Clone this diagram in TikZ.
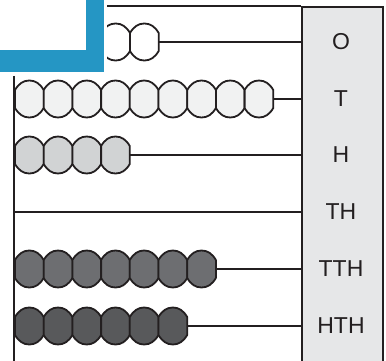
\documentclass[tikz,border=0pt]{standalone}
\usepackage{fontspec}
\setmainfont{Liberation Sans}
\definecolor{ink}{HTML}{231F20}
\definecolor{panelgray}{HTML}{E6E7E8}
\definecolor{beadO}{HTML}{FFFFFF}
\definecolor{beadT}{HTML}{F1F2F2}
\definecolor{beadH}{HTML}{D1D3D4}
\definecolor{beadTTH}{HTML}{6D6E71}
\definecolor{beadHTH}{HTML}{58595B}
\definecolor{cornerblue}{HTML}{2596C4}
\tikzset{
  rod/.style={draw=ink, line width=1.8pt},
  beadshape/.style={draw=ink, line width=1.8pt, line join=round},
  lab/.style={font=\fontsize{23}{27}\selectfont, text=ink, inner sep=0pt},
}
\newcommand\drawbeads[5]{% #1 first left edge, #2 y, #3 count, #4 colour, #5 end coordinate name
  \foreach \i in {1,...,#3}{
    \pgfmathsetmacro\cx{#1+(\i-0.5)*28.7}
    \draw[beadshape, fill=#4]
      (\cx-14.35,#2-9) -- (\cx-14.35,#2+9)
      .. controls (\cx-10.5,#2+15.5) and (\cx-6,#2+18.5) .. (\cx,#2+18.5)
      .. controls (\cx+6,#2+18.5) and (\cx+10.5,#2+15.5) .. (\cx+14.35,#2+9)
      -- (\cx+14.35,#2-9)
      .. controls (\cx+10.5,#2-15.5) and (\cx+6,#2-18.5) .. (\cx,#2-18.5)
      .. controls (\cx-6,#2-18.5) and (\cx-10.5,#2-15.5) .. (\cx-14.35,#2-9) -- cycle;
  }
  \coordinate (#5) at ({#1+#3*28.7},#2);
}
\begin{document}
\begin{tikzpicture}[x=1pt,y=-1pt]
\useasboundingbox (0,0) rectangle (386,361);
% panel
\node[draw=ink, line width=1.8pt, fill=panelgray, minimum width=81.3pt, minimum height=370pt, anchor=north west, inner sep=0pt] (panel) at (300.7,6) {};
% labels
\node[lab] (O) at (341,42) {O};
\node[lab] (T) at (341,99) {T};
\node[lab] (H) at (341,155) {H};
\node[lab] (TH) at (341,212) {TH};
\node[lab] (TTH) at (341,269) {TTH};
\node[lab] (HTH) at (341,326) {HTH};
% frame
\coordinate (frameTL) at (14,76);
\coordinate (frameBL) at (14,365);
\coordinate (topL) at (107,6);
\draw[rod] (topL) -- (panel.north west);
\draw[rod] (frameTL) -- (frameBL);
% beads and rods
\drawbeads{101.3}{42}{2}{beadO}{eO}
\draw[rod] (eO) -- (eO -| panel.west);
\drawbeads{15}{99}{9}{beadT}{eT}
\draw[rod] (eT) -- (eT -| panel.west);
\drawbeads{15}{155}{4}{beadH}{eH}
\draw[rod] (eH) -- (eH -| panel.west);
\coordinate (eTH) at (14,212);
\draw[rod] (eTH) -- (eTH -| panel.west);
\drawbeads{15}{269}{7}{beadTTH}{eTTH}
\draw[rod] (eTTH) -- (eTTH -| panel.west);
\drawbeads{15}{326}{6}{beadHTH}{eHTH}
\draw[rod] (eHTH) -- (eHTH -| panel.west);
% corner mark
\fill[white] (-1,-1) rectangle (107,75);
\fill[cornerblue] (-1,50) rectangle (104,72);
\fill[cornerblue] (86,-1) rectangle (104,72);
\end{tikzpicture}
\end{document}
